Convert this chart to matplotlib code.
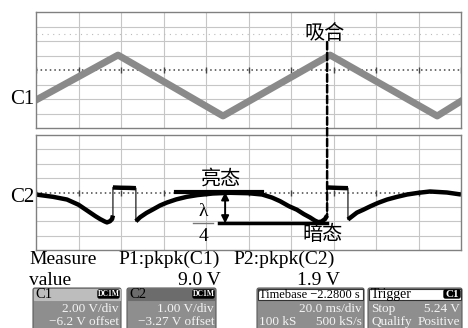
import numpy as np
import matplotlib
matplotlib.use("Agg")
import matplotlib.pyplot as plt
from matplotlib.patches import Rectangle, FancyBboxPatch, ConnectionPatch

# screen units are scope divisions: x 0..10, y -4..4
# C1 - triangle drive voltage
c1_x = [0.0, 1.93, 4.40, 6.92, 9.44, 10.0]
c1_y = [-2.07, 1.03, -3.17, 1.03, -3.17, -2.15]

# C2 - detector signal
c2_x = [0.0, 0.4, 0.73, 1.0, 1.2, 1.4, 1.51, 1.62, 1.67, 1.74, 1.79, 1.81,
        1.81, 2.0, 2.2, 2.35,
        2.35, 2.45, 2.6, 2.75, 2.92, 3.08, 3.3, 3.55, 3.8, 4.16, 4.56, 5.0, 5.32,
        5.55, 5.74, 5.95, 6.14, 6.3, 6.45, 6.56, 6.64, 6.72, 6.8, 6.85,
        6.85, 7.1, 7.34,
        7.34, 7.55, 7.7, 7.86, 8.05, 8.26, 8.5, 8.73, 9.0, 9.27, 9.67, 10.0]
c2_y = [-0.14, -0.3, -0.49, -0.85, -1.25, -1.65, -1.85, -2.02, -2.08, -2.0, -1.85, -1.6,
        0.35, 0.33, 0.32, 0.3,
        -2.0, -1.72, -1.42, -1.18, -0.9, -0.7, -0.48, -0.3, -0.18, -0.07, -0.02, -0.05, -0.14,
        -0.35, -0.6, -0.95, -1.2, -1.5, -1.74, -1.95, -2.06, -2.02, -1.85, -1.6,
        0.35, 0.32, 0.3,
        -1.88, -1.4, -1.2, -0.97, -0.72, -0.49, -0.3, -0.14, -0.02, 0.07, 0.0, -0.14]

bright_level = 0.02
dark_level = -2.15
switch_x = 6.85

measure_names = ["P1:pkpk(C1)", "P2:pkpk(C2)"]
measure_vals = ["9.0 V", "1.9 V"]

SERIF = ["Liberation Serif", "DejaVu Serif"]
CJK = ["Noto Sans CJK SC", "DejaVu Sans"]

W, H = 468, 328
fig = plt.figure(figsize=(W / 100, H / 100), dpi=100)
fig.patch.set_facecolor("white")


def frame(x0, y0, x1, y1):
    return [x0 / W, 1 - y1 / H, (x1 - x0) / W, (y1 - y0) / H]


def scope_axes(rect, dotted):
    ax = fig.add_axes(rect)
    ax.set_xlim(0, 10)
    ax.set_ylim(-4, 4)
    ax.set_xticks([])
    ax.set_yticks([])
    for s in ax.spines.values():
        s.set_color("#808080")
        s.set_linewidth(1.0)
    for v in range(1, 10):
        ax.axvline(v, color="#c6c6c6", lw=0.8, zorder=0)
    for h in [-3, -2, -1, 1, 2, 3]:
        ax.axhline(h, color="#c6c6c6", lw=0.8, zorder=0)
    for h in dotted:
        ax.axhline(h, color="#bbbbbb", lw=0.8, ls=(0, (1, 4)), zorder=0)
    ax.axhline(0, color="#444444", lw=1.1, ls=(0, (1, 2)), zorder=0)
    ax.plot(np.arange(0, 10.01, 1), np.zeros(11), "|", color="#444444", ms=4, zorder=0)
    return ax


ax1 = scope_axes(frame(36, 12, 461, 128), [2.5])
ax2 = scope_axes(frame(36, 135, 461, 250), [])

# traces
ax1.plot(c1_x, c1_y, color="#8a8a8a", lw=5, solid_joinstyle="round")

xs = np.array(c2_x)
ys = np.array(c2_y)
ax2.plot(xs, ys, color="#333333", lw=1.0)
segs = []
cur = [0]
for i in range(len(xs) - 1):
    if xs[i + 1] == xs[i]:
        segs.append(cur)
        cur = [i + 1]
    else:
        cur.append(i + 1)
segs.append(cur)
for s in segs:
    ax2.plot(xs[s], ys[s], color="black", lw=3.2, solid_capstyle="butt")

# lambda/4 annotation
ax2.plot([3.29, 5.32], [bright_level, bright_level], color="black", lw=3)
ax2.plot([4.31, switch_x], [dark_level, dark_level], color="black", lw=2.5)
ax2.plot([3.69, 4.16], [dark_level + 0.05, dark_level + 0.05], color="#777777", lw=1)
ax2.annotate("", xy=(4.45, bright_level), xytext=(4.45, dark_level),
             arrowprops=dict(arrowstyle="<|-|>", color="black", lw=1.4,
                             mutation_scale=11, shrinkA=0, shrinkB=0))
ax2.text(3.93, -1.3, "λ", family=SERIF, fontsize=14, ha="center", va="center")
ax2.text(3.93, -3.05, "4", family=SERIF, fontsize=14, ha="center", va="center")
ax2.text(4.35, 0.9, "亮态", family=CJK, fontsize=14.5, ha="center", va="center")
ax2.text(6.75, -2.95, "暗态", family=CJK, fontsize=14.5, ha="center", va="center")
ax1.text(6.79, 2.55, "吸合", family=CJK, fontsize=14.5, ha="center", va="center")

con = ConnectionPatch(xyA=(switch_x, 1.93), coordsA=ax1.transData,
                      xyB=(switch_x, -1.6), coordsB=ax2.transData,
                      color="black", lw=1.8, linestyle=(0, (3, 1.3)), zorder=5)
fig.add_artist(con)

# overlay in pixel coords for labels and status boxes
ov = fig.add_axes([0, 0, 1, 1])
ov.set_xlim(0, W)
ov.set_ylim(H, 0)
ov.axis("off")

ov.text(34, 100, "C1", family=SERIF, fontsize=15, ha="right", va="center")
ov.text(34, 197, "C2", family=SERIF, fontsize=15, ha="right", va="center")

mfs = 14
ov.text(29, 264, "Measure", family=SERIF, fontsize=mfs, va="baseline")
ov.text(29, 285, "value", family=SERIF, fontsize=mfs, va="baseline")
ov.text(118, 264, measure_names[0], family=SERIF, fontsize=mfs, va="baseline")
ov.text(221, 285, measure_vals[0], family=SERIF, fontsize=mfs, va="baseline", ha="right")
ov.text(233, 264, measure_names[1], family=SERIF, fontsize=mfs, va="baseline")
ov.text(340, 285, measure_vals[1], family=SERIF, fontsize=mfs, va="baseline", ha="right")

body_col = "#8e8e8e"
txt_col = "#f4f4f4"
fs = 9.5


def box(x0, x1, head_col, head_edge=None):
    ov.add_patch(FancyBboxPatch((x0, 288), x1 - x0, 50, boxstyle="round,pad=0,rounding_size=2",
                                facecolor=body_col, edgecolor="#5a5a5a", lw=0.8))
    ov.add_patch(Rectangle((x0 + 1, 289), x1 - x0 - 2, 11, facecolor=head_col,
                           edgecolor=head_edge if head_edge else head_col, lw=0.8))


def badge(x0, x1, label, fsz=5.5):
    ov.add_patch(FancyBboxPatch((x0, 290), x1 - x0, 8, boxstyle="round,pad=0,rounding_size=1.5",
                                facecolor="black", edgecolor="black"))
    ov.text((x0 + x1) / 2, 294.3, label, color="white", fontsize=fsz, ha="center", va="center",
            family=SERIF, fontweight="bold")


# C1 box
box(33, 121, "#bdbdbd")
ov.text(35, 294.5, "C1", family=SERIF, fontsize=fs + 1, va="center")
badge(98, 119, "DC1M")
ov.text(119, 309, "2.00 V/div", family=SERIF, fontsize=fs, color=txt_col, ha="right", va="center")
ov.text(119, 322, "−6.2 V offset", family=SERIF, fontsize=fs, color=txt_col, ha="right", va="center")

# C2 box
box(127, 216, "#6c6c6c")
ov.text(129, 294.5, "C2", family=SERIF, fontsize=fs + 1, va="center")
badge(193, 214, "DC1M")
ov.text(214, 309, "1.00 V/div", family=SERIF, fontsize=fs, color=txt_col, ha="right", va="center")
ov.text(214, 322, "−3.27 V offset", family=SERIF, fontsize=fs, color=txt_col, ha="right", va="center")

# Timebase box
box(257, 364, "white", "#333333")
ov.text(259, 294.5, "Timebase −2.2800 s", family=SERIF, fontsize=9, va="center")
ov.text(362, 309, "20.0 ms/div", family=SERIF, fontsize=fs, color=txt_col, ha="right", va="center")
ov.text(259, 322, "100 kS", family=SERIF, fontsize=fs, color=txt_col, va="center")
ov.text(362, 322, "500 kS/s", family=SERIF, fontsize=fs, color=txt_col, ha="right", va="center")

# Trigger box
box(368, 462, "white", "#333333")
ov.text(371, 294.5, "Trigger", family=SERIF, fontsize=fs + 0.5, va="center")
badge(444, 460, "C1", fsz=8)
ov.text(371, 309, "Stop", family=SERIF, fontsize=fs, color=txt_col, va="center")
ov.text(460, 309, "5.24 V", family=SERIF, fontsize=fs, color=txt_col, ha="right", va="center")
ov.text(371, 322, "Qualify", family=SERIF, fontsize=fs, color=txt_col, va="center")
ov.text(460, 322, "Positive", family=SERIF, fontsize=fs, color=txt_col, ha="right", va="center")

fig.savefig("out.png", dpi=100)
